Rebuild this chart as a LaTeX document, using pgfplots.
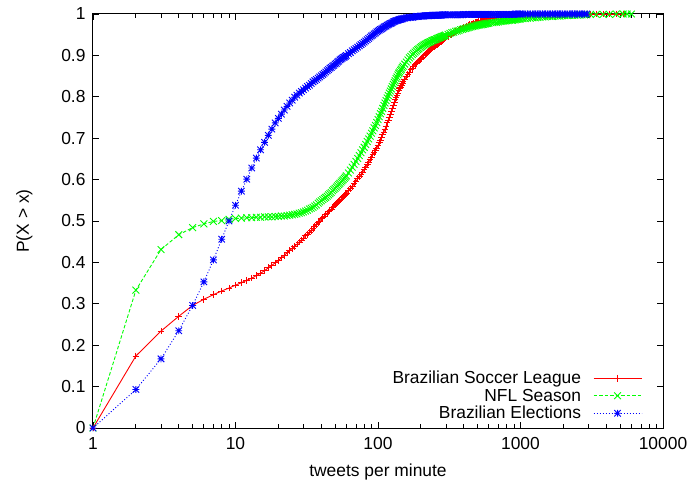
\documentclass[border=0pt]{standalone}
\usepackage{fontspec}
\setmainfont{Liberation Sans}
\usepackage{pgfplots}
\usepackage{pgfplotstable}
\pgfplotsset{compat=1.18}
\definecolor{gpred}{rgb}{1,0,0}
\definecolor{gpgreen}{rgb}{0,1,0}
\definecolor{gpblue}{rgb}{0,0,1}
\pgfdeclareplotmark{gpstar}{%
  \pgfpathmoveto{\pgfqpoint{-\pgfplotmarksize}{0pt}}\pgfpathlineto{\pgfqpoint{\pgfplotmarksize}{0pt}}%
  \pgfpathmoveto{\pgfqpoint{0pt}{-\pgfplotmarksize}}\pgfpathlineto{\pgfqpoint{0pt}{\pgfplotmarksize}}%
  \pgfpathmoveto{\pgfqpoint{-.95\pgfplotmarksize}{-.95\pgfplotmarksize}}\pgfpathlineto{\pgfqpoint{.95\pgfplotmarksize}{.95\pgfplotmarksize}}%
  \pgfpathmoveto{\pgfqpoint{-.95\pgfplotmarksize}{.95\pgfplotmarksize}}\pgfpathlineto{\pgfqpoint{.95\pgfplotmarksize}{-.95\pgfplotmarksize}}%
  \pgfusepathqstroke}
\pgfplotstableread{
x s n e
1 0 0 0
2 .174 .333 .093
3 .234 .431 .167
4 .270 .467 .235
5 .296 .484 .296
6 .311 .493 .353
7 .322 .499 .406
8 .331 .501 .456
9 .338 .504 .500
10 .345 .506 .538
11 .351 .507 .572
12 .357 .508 .601
13 .362 .508 .628
14 .368 .509 .652
15 .374 .509 .672
16 .380 .510 .690
17 .387 .510 .707
18 .393 .510 .722
19 .399 .511 .737
20 .405 .511 .748
21 .411 .512 .758
22 .417 .512 .768
23 .423 .513 .777
24 .429 .514 .785
25 .434 .515 .792
26 .439 .516 .799
27 .444 .517 .804
28 .449 .519 .809
29 .454 .520 .813
30 .459 .522 .817
31 .464 .524 .821
32 .468 .526 .825
33 .473 .529 .828
34 .477 .531 .832
35 .482 .533 .836
36 .487 .536 .839
37 .491 .539 .842
38 .496 .543 .845
39 .500 .546 .848
40 .505 .549 .851
41 .508 .552 .854
42 .512 .555 .857
43 .515 .557 .860
44 .519 .560 .863
45 .522 .563 .866
46 .525 .566 .869
47 .529 .569 .871
48 .532 .573 .874
49 .536 .576 .876
50 .539 .579 .879
51 .542 .582 .881
52 .545 .585 .884
53 .547 .588 .886
54 .550 .591 .889
55 .553 .594 .891
56 .556 .597 .893
57 .559 .600 .895
58 .561 .603 .896
59 .564 .606 .898
60 .567 .609 .900
62 .573 .616 .904
64 .578 .623 .907
66 .584 .630 .911
68 .590 .637 .914
70 .596 .644 .917
72 .602 .651 .920
74 .607 .658 .923
76 .613 .665 .926
78 .618 .672 .929
80 .624 .678 .932
82 .630 .685 .935
84 .636 .692 .938
86 .642 .698 .941
88 .648 .705 .944
90 .654 .712 .947
92 .660 .718 .949
94 .665 .725 .952
96 .671 .731 .954
98 .676 .738 .957
100 .682 .745 .959
102 .689 .752 .961
104 .695 .759 .963
106 .702 .765 .964
108 .708 .772 .966
110 .715 .779 .968
112 .722 .785 .970
114 .729 .791 .971
116 .737 .797 .973
118 .744 .803 .974
120 .751 .809 .976
122 .758 .814 .977
124 .765 .819 .978
126 .773 .825 .979
128 .780 .830 .981
130 .787 .835 .982
132 .793 .839 .983
134 .798 .844 .984
136 .804 .848 .984
138 .809 .853 .985
140 .815 .857 .986
142 .819 .860 .987
144 .823 .864 .987
146 .828 .867 .988
148 .832 .871 .988
150 .836 .874 .989
154 .842 .879 .990
158 .848 .884 .991
162 .854 .889 .991
166 .859 .894 .992
170 .865 .898 .992
174 .869 .902 .992
178 .874 .905 .993
182 .878 .908 .993
186 .881 .911 .994
190 .884 .914 .994
194 .887 .916 .994
198 .891 .919 .995
202 .893 .921 .995
206 .896 .923 .995
210 .899 .925 .995
214 .902 .927 .996
218 .905 .928 .996
222 .907 .930 .996
226 .909 .931 .996
230 .912 .932 .996
234 .914 .933 .996
238 .916 .935 .996
242 .918 .936 .997
246 .920 .937 .997
250 .922 .938 .997
254 .923 .938 .997
258 .925 .940 .997
262 .927 .941 .997
266 .929 .942 .997
270 .931 .943 .997
274 .932 .944 .997
278 .934 .945 .997
282 .936 .946 .998
286 .937 .946 .998
290 .939 .947 .998
294 .940 .948 .998
298 .942 .949 .998
310 .946 .951 .998
320 .949 .953 .998
330 .951 .955 .998
340 .954 .956 .998
350 .957 .958 .998
360 .959 .959 .998
370 .961 .960 .998
380 .964 .962 .998
390 .966 .963 .998
400 .968 .964 .999
410 .969 .965 .999
420 .971 .966 .999
430 .972 .967 .999
440 .974 .968 .999
450 .975 .969 .999
460 .976 .970 .999
470 .977 .971 .999
480 .979 .971 .999
490 .980 .972 .999
500 .981 .973 .999
510 .982 .973 .999
520 .983 .974 .999
530 .983 .974 .999
540 .984 .975 .999
550 .985 .975 .999
560 .986 .976 .999
570 .987 .976 .999
580 .987 .977 .999
590 .988 .977 .999
600 .989 .978 .999
620 .990 .979 .999
640 .990 .979 .999
660 .991 .980 .999
680 .991 .980 .999
700 .992 .981 .999
720 .993 .982 .999
740 .993 .982 .999
760 .994 .983 .999
780 .994 .983 .999
800 .995 .984 .999
820 .995 .984 .999
840 .995 .985 .999
860 .995 .985 .999
880 .996 .985 .999
900 .996 .986 .999
920 .996 .986 1
940 .996 .987 1
960 .997 .987 1
980 .997 .988 1
1000 .997 .988 1
1040 .997 .989 1
1080 .998 .989 1
1120 .998 .990 1
1170 .998 .990 1
1220 .998 .991 1
1270 .998 .991 1
1320 .998 .992 1
1370 .998 .992 1
1430 .999 .993 1
1490 .999 .993 1
1550 .999 .994 1
1610 .999 .994 1
1680 .999 .994 1
1750 .999 .995 1
1820 .999 .995 1
1890 .999 .995 1
1970 .999 .996 1
2050 .999 .996 1
2130 .999 .996 1
2220 1 .997 1
2310 1 .997 1
2400 1 .997 1
2500 1 .997 1
2600 1 .998 1
2700 1 .998 1
2810 1 .998 1
2920 1 .998 1
3100 1 .999 nan
3400 1 .999 nan
3800 1 .999 nan
4200 1 .999 nan
4700 1 1 nan
5250 1 1 nan
5600 nan 1 nan
6000 nan 1 nan
}\cdfdata
\begin{document}
\begin{tikzpicture}
\useasboundingbox (-93pt,-57pt) rectangle (600pt,428pt);
\begin{axis}[
  scale only axis, width=570pt, height=414pt,
  xmode=log, xmin=1, xmax=10000, ymin=0, ymax=1,
  unbounded coords=discard,
  font=\fontsize{17.4}{20}\selectfont,
  /pgf/number format/assume math mode=true,
  xtick={1,10,100,1000,10000},
  xticklabels={1,10,100,1000,10000},
  minor xtick={2,3,4,5,6,7,8,9,20,30,40,50,60,70,80,90,200,300,400,500,600,700,800,900,2000,3000,4000,5000,6000,7000,8000,9000},
  ytick={0,0.1,0.2,0.3,0.4,0.5,0.6,0.7,0.8,0.9,1},
  yticklabel style={/pgf/number format/fixed, xshift=-4pt},
  xticklabel style={yshift=-6pt},
  tick label style={font=\fontsize{17.4}{20}\selectfont},
  axis line style={line width=1pt, black},
  every tick/.style={line width=0.8pt, black},
  major tick length=6pt, minor tick length=4pt,
  xlabel={tweets per minute}, ylabel={P(X > x)},
  every axis x label/.style={at={(axis description cs:0.5,0)}, anchor=base, yshift=-48pt},
  every axis y label/.style={at={(axis description cs:0,0.5)}, xshift=-64pt, rotate=90, anchor=base},
  legend cell align=right, legend plot pos=right,
  legend style={draw=none, fill=none, inner sep=0pt, outer sep=0pt,
    at={(rel axis cs:0.9632,0.0097)}, anchor=south east,
    row sep=0pt, column sep=12pt,
    cells={anchor=base east},
    nodes={inner sep=0pt, text height=12.5pt, text depth=5pt, font=\fontsize{17.4}{20}\selectfont}},
  legend image code/.code={\draw[mark repeat=2,mark phase=2,#1] plot coordinates {(0pt,5.7pt)(24pt,5.7pt)(48pt,5.7pt)};},
]
\addplot[gpred, line width=0.9pt, mark=+, mark size=3.3pt, mark options={solid}] table[x=x,y=s] {\cdfdata};
\addlegendentry{Brazilian Soccer League}
\addplot[gpgreen, line width=0.9pt, dash pattern=on 3.5pt off 2pt, mark=x, mark size=4.8pt, mark options={solid}] table[x=x,y=n] {\cdfdata};
\addlegendentry{NFL Season}
\addplot[gpblue, line width=0.9pt, dash pattern=on 1pt off 2pt, mark=gpstar, mark size=3.4pt, mark options={solid}] table[x=x,y=e] {\cdfdata};
\addlegendentry{Brazilian Elections}
\end{axis}
\end{tikzpicture}
\end{document}
